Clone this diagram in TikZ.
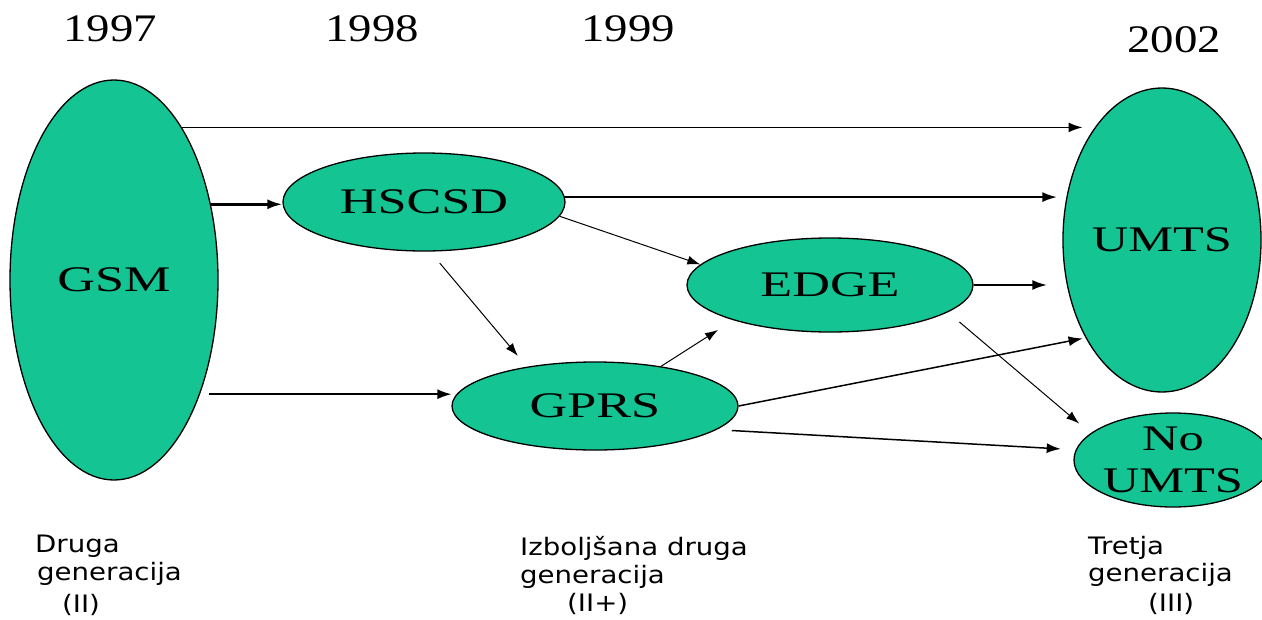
\documentclass[tikz,border=0pt]{standalone}
\usepackage{fontspec}
\setmainfont{Liberation Serif}
\newfontfamily\genfont{DejaVu Sans}
\usetikzlibrary{arrows.meta,shapes.geometric}
\definecolor{netgreen}{RGB}{20,196,146}
\newcommand{\widen}[2]{\scalebox{#1}[1]{#2}}
\tikzset{
  net/.style={ellipse, draw=black, line width=1.3pt, fill=netgreen, inner sep=0pt,
    align=center, font=\fontsize{36}{42}\selectfont},
  year/.style={font=\fontsize{39}{40}\selectfont},
  gen/.style={anchor=base west, inner sep=0pt, font=\genfont\fontsize{24}{26}\selectfont},
  slimlink/.style={-{Latex[length=13pt,width=9pt]}, line width=1pt},
  link/.style={-{Latex[length=14pt,width=10pt]}, line width=1.5pt},
  boldlink/.style={-{Latex[length=15pt,width=10pt]}, line width=2.5pt},
}

\begin{document}
\begin{tikzpicture}[x=1pt,y=-1pt]
  \useasboundingbox[fill=white] (0,0) rectangle (1262,619);
  % Years along the top
  \node[year] (y97) at (110,29) {\widen{1.2}{1997}};
  \node[year] (y98) at (372,29) {\widen{1.2}{1998}};
  \node[year] (y99) at (628,29) {\widen{1.2}{1999}};
  \node[year] (y02) at (1174,40) {\widen{1.2}{2002}};
  % Networks
  \node[net, minimum width=208pt, minimum height=400pt] (gsm) at (114,280) {\widen{1.45}{GSM}};
  \node[net, minimum width=282pt, minimum height=98pt] (hscsd) at (424,202) {\widen{1.45}{HSCSD}};
  \node[net, minimum width=286pt, minimum height=94pt] (edge) at (830,285) {\widen{1.45}{EDGE}};
  \node[net, minimum width=286pt, minimum height=88pt] (gprs) at (595,406) {\widen{1.45}{GPRS}};
  \node[net, minimum width=198pt, minimum height=304pt] (umts) at (1162,240) {\widen{1.4}{UMTS}};
  \node[net, minimum width=172pt, minimum height=94pt] (noumts) at (1173,460)
    {\widen{1.4}{No}\\\widen{1.4}{UMTS}};
  % Connections
  \draw[link, shorten >=12pt] (gsm.66) -- (gsm.66 -| umts.121);
  \draw[boldlink] (gsm.38) -- (gsm.38 -| hscsd.west);
  \draw[link, shorten <=9pt] (gsm.-53) -- (gsm.-53 -| gprs.west);
  \draw[boldlink, shorten >=5pt] (hscsd.2) -- (hscsd.2 -| umts.west);
  \draw[boldlink, shorten >=15pt] (edge.east) -- (edge.east -| umts.west);
  \draw[slimlink] (hscsd.-6) -- (edge.171);
  \draw[slimlink, shorten <=15pt, shorten >=14pt] (hscsd.-83) -- (gprs.150);
  \draw[slimlink, shorten >=18pt] (gprs.31) -- (edge.-160);
  \draw[link, shorten >=3pt] (gprs.east) -- (umts.232);
  \draw[link, shorten <=15pt, shorten >=15pt] (gprs.-11) -- (noumts.174);
  \draw[slimlink, shorten <=15pt, shorten >=15pt] (edge.-13) -- (noumts.162);
  % Generations along the bottom
  \node[gen] (g2a) at (35,552) {\widen{1.15}{Druga}};
  \node[gen] (g2b) at (37,580) {\widen{1.15}{generacija}};
  \node[gen] (g2c) at (62,612) {\widen{1.15}{(II)}};
  \node[gen] (g25a) at (520,555) {\widen{1.15}{Izboljšana druga}};
  \node[gen] (g25b) at (520,583) {\widen{1.15}{generacija}};
  \node[gen] (g25c) at (567,611) {\widen{1.15}{(II+)}};
  \node[gen] (g3a) at (1088,554) {\widen{1.15}{Tretja}};
  \node[gen] (g3b) at (1088,581) {\widen{1.15}{generacija}};
  \node[gen] (g3c) at (1148,611) {\widen{1.15}{(III)}};
\end{tikzpicture}
\end{document}
